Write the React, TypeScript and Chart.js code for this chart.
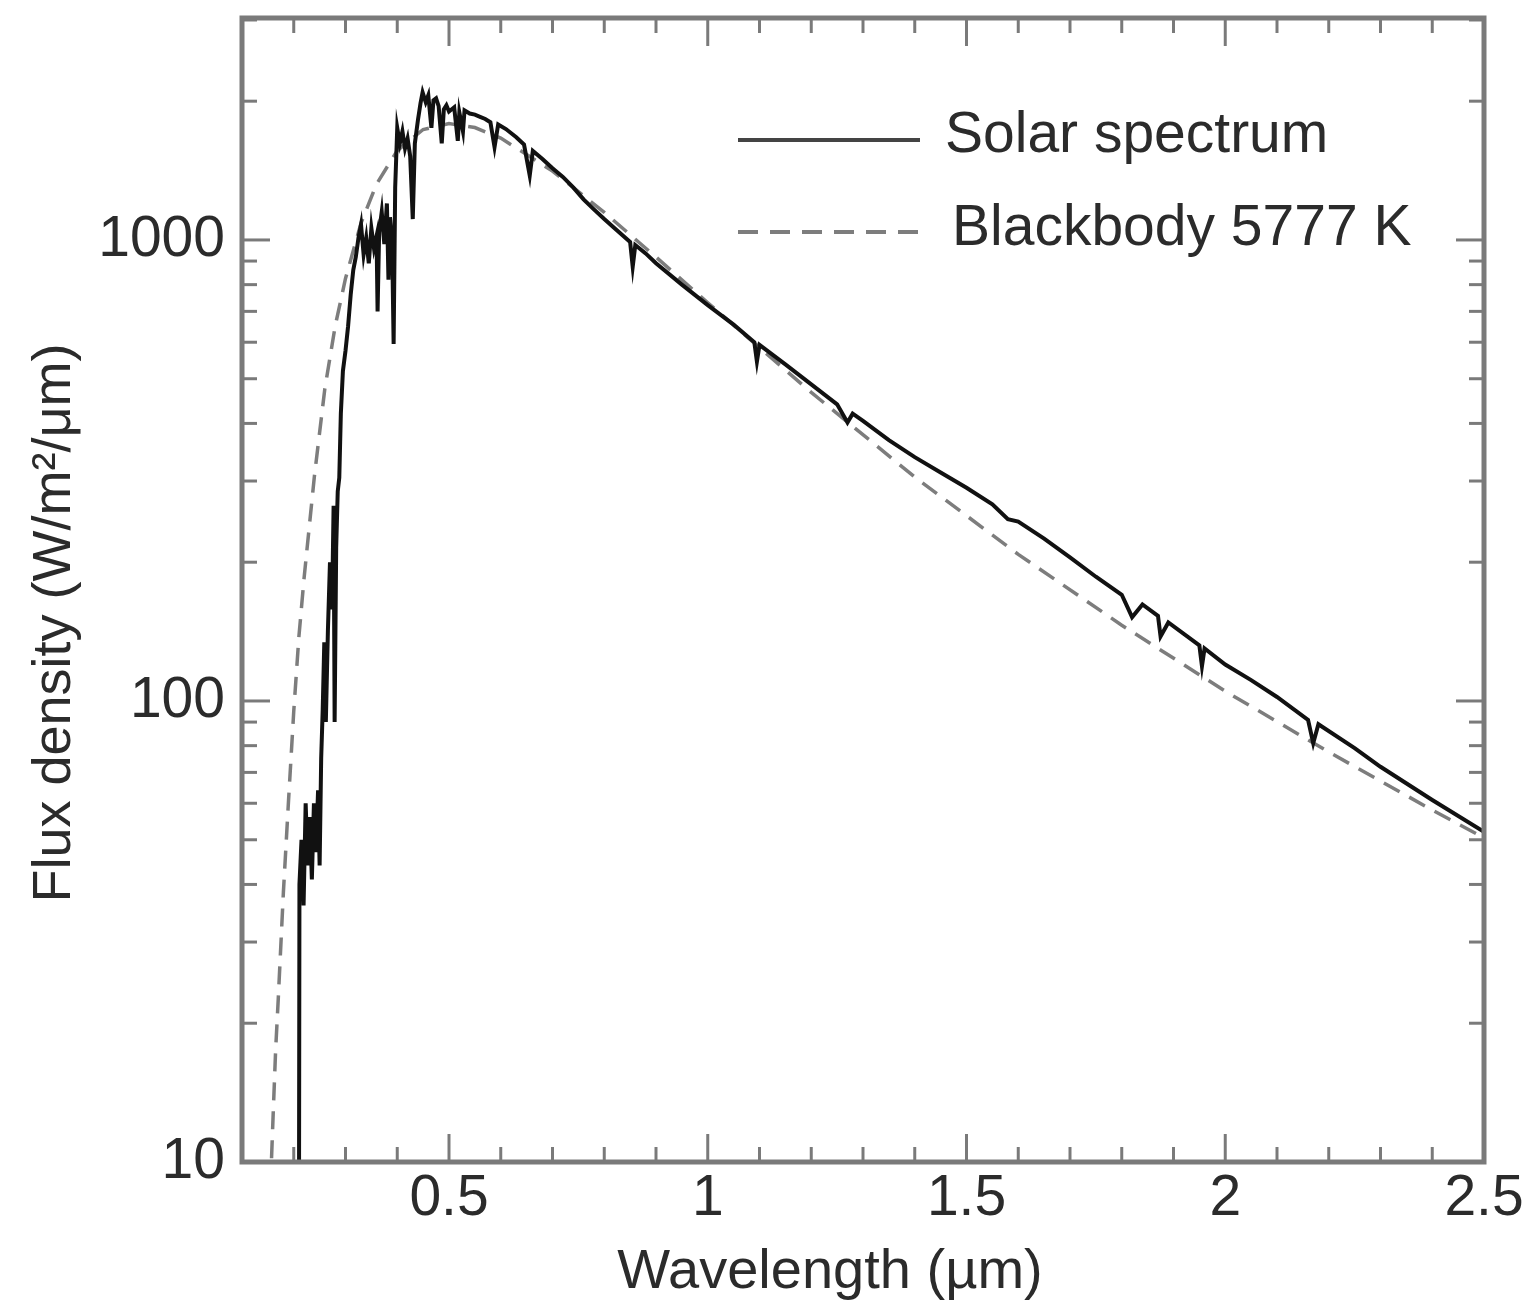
import React, { useEffect, useRef } from "react";
import { Chart, registerables } from "chart.js";

Chart.register(...registerables);

// ---- data ----
const solarWavelength = [
  0.2, 0.21, 0.211, 0.215, 0.219, 0.223, 0.227, 0.231, 0.235, 0.239, 0.243, 0.247, 0.25, 0.253, 0.256, 0.259,
  0.262, 0.266, 0.27, 0.274, 0.277, 0.279, 0.282, 0.285, 0.288, 0.291, 0.295, 0.3, 0.305, 0.31, 0.315, 0.32,
  0.325, 0.33, 0.335, 0.34, 0.345, 0.35, 0.355, 0.36, 0.362, 0.365, 0.37, 0.375, 0.38, 0.383, 0.386, 0.39,
  0.393, 0.396, 0.4, 0.405, 0.41, 0.415, 0.42, 0.425, 0.43, 0.434, 0.44, 0.445, 0.449, 0.455, 0.46, 0.466,
  0.47, 0.475, 0.48, 0.486, 0.49, 0.495, 0.5, 0.51, 0.517, 0.52, 0.527, 0.53, 0.54, 0.55, 0.56, 0.57, 0.58,
  0.588, 0.595, 0.61, 0.63, 0.645, 0.656, 0.662, 0.68, 0.7, 0.72, 0.74, 0.76, 0.78, 0.8, 0.82, 0.85,
  0.855, 0.86, 0.88, 0.9, 0.95, 1.0, 1.05, 1.09, 1.095, 1.1, 1.15, 1.2, 1.25, 1.27, 1.28, 1.3,
  1.35, 1.4, 1.45, 1.5, 1.55, 1.58, 1.6, 1.65, 1.7, 1.75, 1.8, 1.82, 1.84, 1.87, 1.875, 1.89,
  1.95, 1.955, 1.96, 2.0, 2.05, 2.1, 2.16, 2.17, 2.18, 2.25, 2.3, 2.4, 2.5,
];
const solarFlux = [
  5, 6, 40, 50, 36, 60, 44, 56, 41, 60, 47, 64, 44, 75, 96, 134,
  90, 142, 200, 158, 265, 90, 215, 285, 305, 420, 520, 575, 650, 760, 860, 920,
  1010, 1080, 930, 1010, 890, 1060, 960, 1020, 700, 1040, 1150, 980, 1200, 820, 1120, 1000,
  595, 1300, 1750, 1620, 1720, 1580, 1660, 1520, 1110, 1620, 1820, 1980, 2090, 1990, 2060, 1750,
  2010, 2030, 1950, 1620, 1920, 1960, 1900, 1940, 1640, 1890, 1720, 1910, 1880, 1870, 1850, 1830, 1800,
  1590, 1780, 1740, 1670, 1610, 1380, 1560, 1500, 1430, 1370, 1300, 1225, 1165, 1110, 1060, 990,
  875, 975, 935, 890, 800, 722, 655, 600, 545, 592, 537, 486, 440, 402, 420, 405,
  368, 338, 313, 290, 267, 248, 245, 225, 205, 186, 170, 152, 162, 153, 138, 148,
  132, 119, 130, 120, 111, 102, 91, 81, 89, 79, 72, 61, 52,
];

const blackbodyWavelength = [
  0.15, 0.155, 0.16, 0.165, 0.17, 0.18, 0.19, 0.2, 0.21, 0.22, 0.24, 0.26, 0.28, 0.3, 0.33, 0.36,
  0.4, 0.45, 0.5, 0.55, 0.6, 0.7, 0.8, 0.9, 1.0, 1.2, 1.4, 1.6, 1.8, 2.0, 2.2, 2.4, 2.5,
];
const blackbodyFlux = [
  6.6, 8.8, 12.5, 17.5, 22.5, 38.5, 61, 95, 138, 185, 308, 475, 650, 825, 1088, 1322,
  1562, 1736, 1788, 1753, 1663, 1411, 1148, 918, 731, 467, 306, 208, 146, 105, 77.5, 58, 50.5,
];

const seriesLabels = ["Solar spectrum", "Blackbody 5777 K"];

const xTickValues = [0.5, 1, 1.5, 2, 2.5];
const xTickLabels = ["0.5", "1", "1.5", "2", "2.5"];
const xMinorTicks = [
  0.2, 0.3, 0.4, 0.6, 0.7, 0.8, 0.9, 1.1, 1.2, 1.3, 1.4, 1.6, 1.7, 1.8, 1.9, 2.1, 2.2, 2.3, 2.4,
];
const yTickValues = [10, 100, 1000];
const yTickLabels = ["10", "100", "1000"];
const yMinorTicks = [20, 30, 40, 50, 60, 70, 80, 90, 200, 300, 400, 500, 600, 700, 800, 900, 2000, 3000];

const xTitle = "Wavelength (µm)";
const yTitle = "Flux density (W/m²/μm)";

const FONT = "'Liberation Sans', Arial, Helvetica, sans-serif";
const TEXT_COLOR = "#2b2b2b";
const AXIS_COLOR = "#7a7a7a";

const decorPlugin = {
  id: "decor",
  afterDatasetsDraw(chart: any) {
    const { ctx, chartArea } = chart;
    const { left, right, top, bottom } = chartArea;
    const xs = chart.scales.x;
    const ys = chart.scales.y;
    ctx.save();

    const seg = (x1: number, y1: number, x2: number, y2: number) => {
      ctx.beginPath();
      ctx.moveTo(x1, y1);
      ctx.lineTo(x2, y2);
      ctx.stroke();
    };

    // inward tick marks on all four sides
    ctx.strokeStyle = AXIS_COLOR;
    ctx.lineWidth = 3;
    const majorLen = 28;
    const minorLen = 15;
    xTickValues.forEach((v) => {
      const p = xs.getPixelForValue(v);
      seg(p, bottom, p, bottom - majorLen);
      seg(p, top, p, top + majorLen);
    });
    xMinorTicks.forEach((v) => {
      const p = xs.getPixelForValue(v);
      seg(p, bottom, p, bottom - minorLen);
      seg(p, top, p, top + minorLen);
    });
    yTickValues.forEach((v) => {
      const p = ys.getPixelForValue(v);
      seg(left, p, left + majorLen, p);
      seg(right, p, right - majorLen, p);
    });
    yMinorTicks.forEach((v) => {
      const p = ys.getPixelForValue(v);
      seg(left, p, left + minorLen, p);
      seg(right, p, right - minorLen, p);
    });

    // frame
    ctx.lineWidth = 5;
    ctx.strokeRect(left, top, right - left, bottom - top);

    // legend (inside plot, top right)
    const ds = chart.data.datasets;
    const lx1 = 738;
    const lx2 = 920;
    const rows = [
      { y: 140, textX: 945, base: 152 },
      { y: 232, textX: 952, base: 245 },
    ];
    rows.forEach((r, i) => {
      const d = ds[i];
      ctx.strokeStyle = i === 0 ? "#444444" : d.borderColor;
      ctx.lineWidth = 4;
      ctx.setLineDash(i === 0 ? [] : [20, 12]);
      seg(lx1, r.y, lx2, r.y);
      ctx.setLineDash([]);
      ctx.fillStyle = TEXT_COLOR;
      ctx.font = `57px ${FONT}`;
      ctx.textAlign = "left";
      ctx.textBaseline = "alphabetic";
      ctx.fillText(d.label, r.textX, r.base);
    });

    // axis titles
    ctx.fillStyle = TEXT_COLOR;
    ctx.font = `56px ${FONT}`;
    ctx.textAlign = "center";
    ctx.textBaseline = "alphabetic";
    ctx.fillText(xTitle, 830, 1288);

    ctx.save();
    ctx.translate(70, 623);
    ctx.rotate(-Math.PI / 2);
    ctx.font = `54px ${FONT}`;
    ctx.fillText(yTitle, 0, 0);
    ctx.restore();

    ctx.restore();
  },
};

export default function App() {
  const canvasRef = useRef<HTMLCanvasElement | null>(null);

  useEffect(() => {
    const canvas = canvasRef.current;
    if (!canvas) return;
    const solarPoints = solarWavelength.map((x, i) => ({ x, y: solarFlux[i] }));
    const bbPoints = blackbodyWavelength.map((x, i) => ({ x, y: blackbodyFlux[i] }));

    const chart = new Chart(canvas, {
      type: "line",
      data: {
        datasets: [
          {
            label: seriesLabels[0],
            data: solarPoints,
            borderColor: "#111111",
            borderWidth: 4,
            pointRadius: 0,
            tension: 0,
            fill: false,
          },
          {
            label: seriesLabels[1],
            data: bbPoints,
            borderColor: "#7d7d7d",
            borderWidth: 3.5,
            borderDash: [18, 11],
            pointRadius: 0,
            tension: 0,
            fill: false,
          },
        ],
      },
      options: {
        responsive: false,
        animation: false,
        devicePixelRatio: 1,
        layout: { padding: { left: 0, top: 18, right: 43, bottom: 0 } },
        plugins: {
          legend: { display: false },
          tooltip: { enabled: false },
          title: { display: false },
        },
        scales: {
          x: {
            type: "linear",
            min: 0.1,
            max: 2.5,
            afterBuildTicks: (s: any) => {
              s.ticks = xTickValues.map((v) => ({ value: v }));
            },
            afterFit: (s: any) => {
              s.height = 142;
              s.paddingLeft = 0;
              s.paddingRight = 0;
            },
            ticks: {
              autoSkip: false,
              maxRotation: 0,
              padding: 3,
              color: TEXT_COLOR,
              font: { family: FONT, size: 57 },
              callback: (_v: any, i: number) => xTickLabels[i],
            },
            grid: { display: false, drawTicks: false },
            border: { display: false },
          },
          y: {
            type: "logarithmic",
            min: 10,
            max: 3030,
            afterBuildTicks: (s: any) => {
              s.ticks = yTickValues.map((v) => ({ value: v }));
            },
            afterFit: (s: any) => {
              s.width = 242;
              s.paddingTop = 0;
              s.paddingBottom = 0;
            },
            ticks: {
              autoSkip: false,
              padding: 17,
              color: TEXT_COLOR,
              font: { family: FONT, size: 57 },
              callback: (_v: any, i: number) => yTickLabels[i],
            },
            grid: { display: false, drawTicks: false },
            border: { display: false },
          },
        },
      },
      plugins: [decorPlugin],
    } as any);

    return () => chart.destroy();
  }, []);

  return (
    <div style={{ position: "absolute", left: 0, top: 0, width: 1527, height: 1304, background: "#fff" }}>
      <canvas ref={canvasRef} width={1527} height={1304} style={{ display: "block" }} />
    </div>
  );
}
